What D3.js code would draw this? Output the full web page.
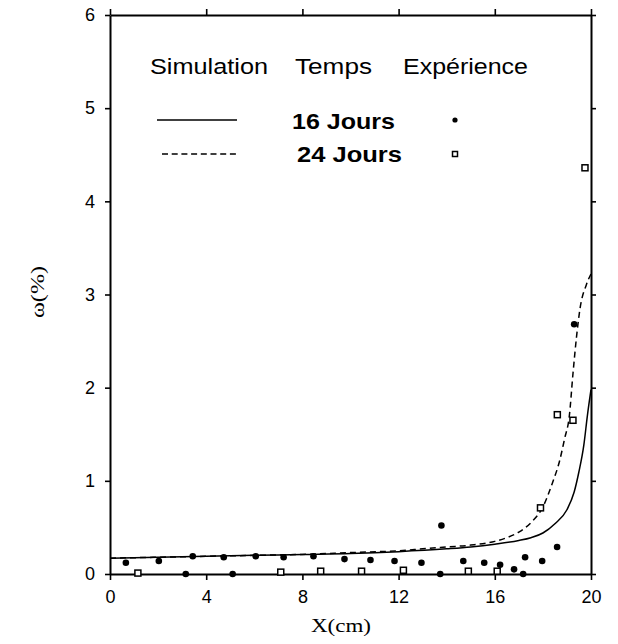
<!DOCTYPE html>
<html>
<head>
<meta charset="utf-8">
<script src="https://cdn.jsdelivr.net/npm/d3@7/dist/d3.min.js"></script>
<style>
  html, body { margin: 0; padding: 0; background: #fff; }
  svg { display: block; }
</style>
</head>
<body>
<script>
// Simulated water content profiles (%), vs. position X (cm)
const sim16X = [0, 2, 4, 6, 8, 10, 12, 14, 15, 16, 17, 17.5, 18, 18.5, 19, 19.3, 19.5, 19.7, 19.85, 20];
const sim16Y = [0.17, 0.18, 0.19, 0.2, 0.21, 0.22, 0.24, 0.27, 0.29, 0.32, 0.36, 0.39, 0.44, 0.54, 0.69, 0.88, 1.1, 1.38, 1.7, 1.98];
const sim24X = [0, 2, 4, 6, 8, 10, 12, 13, 14, 15, 16, 16.5, 17, 17.5, 18, 18.4, 18.7, 18.9, 19.1, 19.25, 19.4, 19.55, 19.8, 20];
const sim24Y = [0.17, 0.18, 0.19, 0.2, 0.21, 0.23, 0.25, 0.27, 0.29, 0.31, 0.35, 0.39, 0.45, 0.55, 0.72, 0.98, 1.22, 1.45, 1.7, 2.15, 2.55, 2.86, 3.1, 3.22];

// Measured points
const exp16X = [0.66, 2.03, 3.44, 4.73, 6.06, 7.22, 8.46, 9.75, 10.83, 11.83, 12.95, 13.78, 14.69, 15.56, 16.22, 16.8, 17.26, 17.97, 18.59, 19.3, 3.15, 5.1, 13.73, 17.18];
const exp16Y = [0.12, 0.14, 0.19, 0.18, 0.19, 0.18, 0.19, 0.16, 0.15, 0.14, 0.12, 0.52, 0.14, 0.12, 0.10, 0.05, 0.18, 0.14, 0.29, 2.68, 0, 0, 0, 0];
const exp24X = [1.16, 7.1, 8.76, 10.46, 12.2, 14.9, 16.1, 17.9, 18.6, 19.25, 19.75];
const exp24Y = [0.01, 0.02, 0.03, 0.03, 0.04, 0.03, 0.03, 0.71, 1.71, 1.65, 4.36];

const xTicks = [0, 4, 8, 12, 16, 20];
const yTicks = [0, 1, 2, 3, 4, 5, 6];

const W = 618, H = 644;
const plotL = 110, plotR = 591, plotT = 15, plotB = 574;

const svg = d3.select("body").append("svg").attr("width", W).attr("height", H);

const x = d3.scaleLinear().domain([0, 20]).range([plotL, plotR]);
const y = d3.scaleLinear().domain([0, 6]).range([plotB, plotT]);

const sans = "Liberation Sans, Arial, sans-serif";
const serif = "Liberation Serif, Times New Roman, serif";

// Frame axes with outward ticks
function styleAxis(g, showLabels) {
  g.select(".domain").attr("stroke", "#000").attr("stroke-width", 2);
  g.selectAll(".tick line").attr("stroke", "#000").attr("stroke-width", 1.6);
  g.selectAll(".tick text").attr("font-family", sans).attr("font-size", 18).attr("fill", "#000");
  if (!showLabels) g.selectAll(".tick text").remove();
}

svg.append("g").attr("transform", `translate(0,${plotB})`)
  .call(d3.axisBottom(x).tickValues(xTicks).tickFormat(d3.format("d")).tickSize(6).tickSizeOuter(0).tickPadding(10))
  .call(g => styleAxis(g, true));
svg.append("g").attr("transform", `translate(0,${plotT})`)
  .call(d3.axisTop(x).tickValues(xTicks).tickSize(6).tickSizeOuter(0))
  .call(g => styleAxis(g, false));
svg.append("g").attr("transform", `translate(${plotL},0)`)
  .call(d3.axisLeft(y).tickValues(yTicks).tickFormat(d3.format("d")).tickSize(5).tickSizeOuter(0).tickPadding(10))
  .call(g => styleAxis(g, true));
svg.append("g").attr("transform", `translate(${plotR},0)`)
  .call(d3.axisRight(y).tickValues(yTicks).tickSize(5).tickSizeOuter(0))
  .call(g => styleAxis(g, false));

// Axis titles
svg.append("text")
  .attr("x", 311).attr("y", 632)
  .attr("font-family", serif)
  .attr("font-size", 19)
  .attr("textLength", 60).attr("lengthAdjust", "spacingAndGlyphs")
  .text("X(cm)");
svg.append("text")
  .attr("transform", "translate(44,318) rotate(-90)")
  .attr("font-family", serif)
  .attr("font-size", 19)
  .attr("textLength", 52).attr("lengthAdjust", "spacingAndGlyphs")
  .text("ω(%)");

// Simulated curves
const line = d3.line().x(d => x(d[0])).y(d => y(d[1])).curve(d3.curveMonotoneX);
svg.append("path")
  .datum(d3.zip(sim16X, sim16Y))
  .attr("d", line).attr("fill", "none").attr("stroke", "#000").attr("stroke-width", 1.5);
svg.append("path")
  .datum(d3.zip(sim24X, sim24Y))
  .attr("d", line).attr("fill", "none").attr("stroke", "#000").attr("stroke-width", 1.5)
  .attr("stroke-dasharray", "6,4");

// Measured points
svg.append("g").selectAll("circle")
  .data(d3.zip(exp16X, exp16Y))
  .join("circle")
  .attr("cx", d => x(d[0])).attr("cy", d => y(d[1])).attr("r", 3.3)
  .attr("fill", "#000");
svg.append("g").selectAll("rect")
  .data(d3.zip(exp24X, exp24Y))
  .join("rect")
  .attr("x", d => x(d[0]) - 3).attr("y", d => y(d[1]) - 3)
  .attr("width", 6).attr("height", 6)
  .attr("fill", "#fff").attr("stroke", "#000").attr("stroke-width", 1.5);

// Legend
const legend = svg.append("g").attr("font-family", sans).attr("fill", "#000");
const headers = [["Simulation", 150, 118], ["Temps", 295, 77], ["Expérience", 403, 125]];
legend.selectAll("text.hdr").data(headers).join("text")
  .attr("class", "hdr")
  .attr("x", d => d[1]).attr("y", 74)
  .attr("font-size", 22)
  .attr("textLength", d => d[2]).attr("lengthAdjust", "spacingAndGlyphs")
  .text(d => d[0]);
legend.append("line").attr("x1", 157).attr("x2", 237).attr("y1", 120).attr("y2", 120)
  .attr("stroke", "#000").attr("stroke-width", 1.5);
legend.append("line").attr("x1", 162).attr("x2", 238).attr("y1", 154).attr("y2", 154)
  .attr("stroke", "#000").attr("stroke-width", 1.5).attr("stroke-dasharray", "6,3.7");
legend.append("text").attr("x", 292).attr("y", 129).attr("font-size", 22).attr("font-weight", "bold")
  .attr("textLength", 103).attr("lengthAdjust", "spacingAndGlyphs")
  .text("16 Jours");
legend.append("text").attr("x", 297).attr("y", 162).attr("font-size", 22).attr("font-weight", "bold")
  .attr("textLength", 105).attr("lengthAdjust", "spacingAndGlyphs")
  .text("24 Jours");
legend.append("circle").attr("cx", 455).attr("cy", 120).attr("r", 2.6).attr("fill", "#000");
legend.append("rect").attr("x", 452.5).attr("y", 151.5).attr("width", 5).attr("height", 5)
  .attr("fill", "#fff").attr("stroke", "#000").attr("stroke-width", 1.5);
</script>
</body>
</html>
